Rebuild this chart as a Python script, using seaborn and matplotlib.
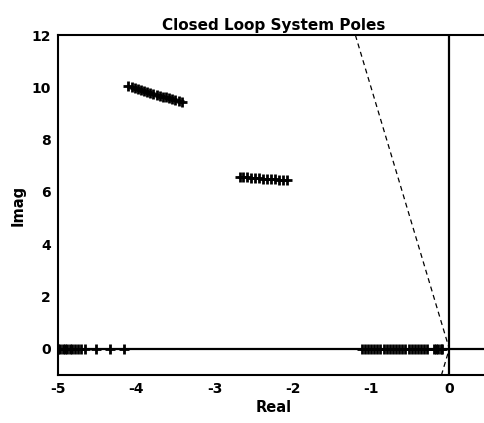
import matplotlib
matplotlib.use('Agg')
import matplotlib.pyplot as plt
import pandas as pd
import seaborn as sns

# closed loop pole locations
real_upper = [-4.10, -4.06, -4.02, -3.98, -3.94, -3.90, -3.86, -3.82, -3.78, -3.74,
              -3.70, -3.66, -3.62, -3.58, -3.54, -3.50, -3.46, -3.42]
imag_upper = [10.04, 10.00, 9.97, 9.93, 9.90, 9.86, 9.83, 9.79, 9.76, 9.72,
              9.69, 9.65, 9.62, 9.58, 9.55, 9.51, 9.48, 9.44]

real_mid = [-2.68, -2.63, -2.58, -2.53, -2.48, -2.43, -2.38, -2.33, -2.28, -2.23,
            -2.18, -2.13, -2.08]
imag_mid = [6.58, 6.57, 6.56, 6.55, 6.53, 6.52, 6.51, 6.50, 6.49, 6.48,
            6.47, 6.46, 6.45]

real_left = [-5.00, -4.97, -4.94, -4.91, -4.88, -4.85, -4.82, -4.78, -4.74, -4.70,
             -4.66, -4.51, -4.33, -4.16]
real_right = [-1.12, -1.08, -1.04, -1.00, -0.96, -0.92, -0.88, -0.84, -0.80, -0.76,
              -0.72, -0.68, -0.64, -0.60, -0.56, -0.52, -0.48, -0.44, -0.40, -0.36,
              -0.32, -0.28, -0.20, -0.17, -0.14, -0.11, -0.09]

# damping ratio boundary
zeta_real = [-1.2, 0.0, -0.1]
zeta_imag = [12.0, 0.0, -1.0]

xticks = [-5, -4, -3, -2, -1, 0]
yticks = [0, 2, 4, 6, 8, 10, 12]

real_axis = real_left + real_right
poles = pd.DataFrame({
    'Real': real_upper + real_mid + real_axis,
    'Imag': imag_upper + imag_mid + [0.0] * len(real_axis),
})

sns.set_style('white')
plt.rcParams['font.family'] = ['DejaVu Sans']
plt.rcParams['font.weight'] = 'bold'
plt.rcParams['axes.unicode_minus'] = False
plt.rcParams['text.color'] = 'black'
plt.rcParams['axes.labelcolor'] = 'black'
plt.rcParams['xtick.color'] = 'black'
plt.rcParams['ytick.color'] = 'black'

fig = plt.figure(figsize=(4.85, 4.23), dpi=100)
# right edge of the axes falls just outside the picture
ax = fig.add_axes([0.1196, 0.1135, 0.8907, 0.8035])

ax.axhline(0, color='black', lw=1.6, zorder=1)
ax.axvline(0, color='black', lw=1.6, zorder=1)
ax.plot(zeta_real, zeta_imag, color='black', lw=0.9, ls=(0, (4, 3)))

sns.scatterplot(x='Real', y='Imag', data=poles, marker='+', color='black',
                s=55, linewidth=2.0, ax=ax, zorder=3)

ax.set_xlim(-5, 0.52)
ax.set_ylim(-1, 12)
ax.set_xticks(xticks)
ax.set_yticks(yticks)
ax.tick_params(direction='in', length=4, width=1, labelsize=10, pad=5)
for lab in ax.get_xticklabels() + ax.get_yticklabels():
    lab.set_fontweight('bold')
for s in ax.spines.values():
    s.set_color('black')
    s.set_linewidth(1.5)
ax.spines['right'].set_visible(False)

ax.set_title('Closed Loop System Poles', fontsize=11, fontweight='bold', pad=4)
ax.set_xlabel('Real', fontsize=10.5, fontweight='bold', labelpad=3)
ax.set_ylabel('Imag', fontsize=10.5, fontweight='bold', labelpad=4)

fig.savefig('out.png', dpi=100, facecolor='white')
